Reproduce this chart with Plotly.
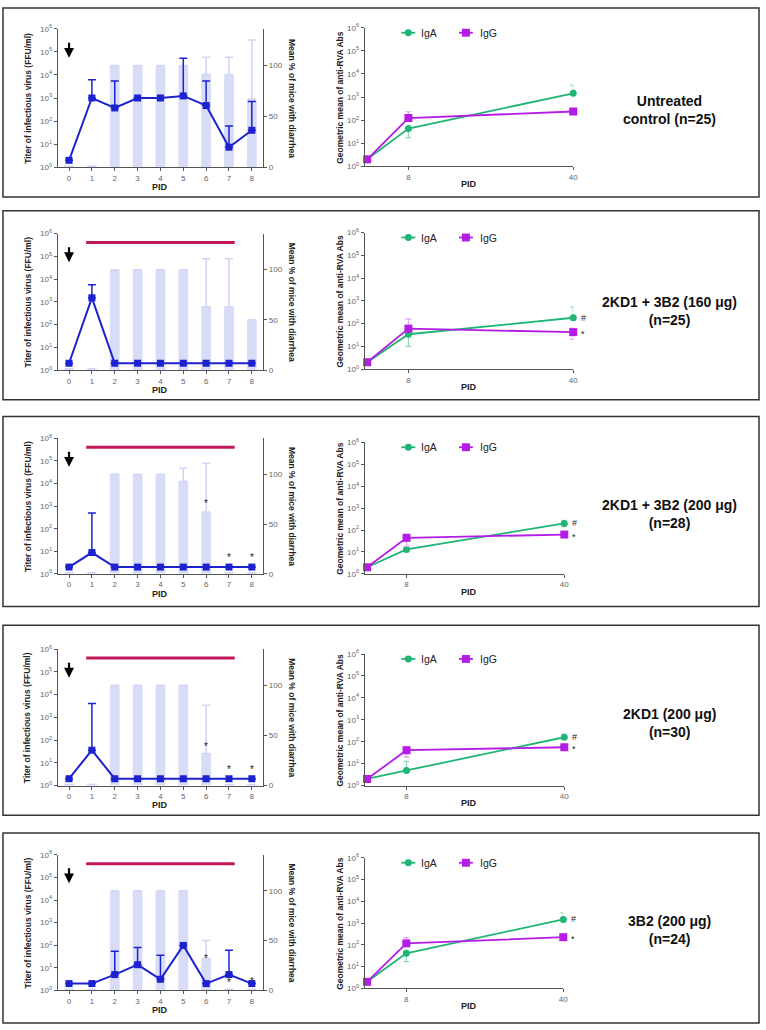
import math
import plotly.graph_objects as go

# ---------------- data ----------------
days = [0, 1, 2, 3, 4, 5, 6, 7, 8]
day_labels = ["0", "1", "2", "3", "4", "5", "6", "7", "8"]
ab_days = [0, 8, 40]
ab_tick_vals = [8, 40]
ab_tick_text = ["8", "40"]
log_tick_vals = [1, 10, 100, 1000, 10000, 100000, 1000000]
log_tick_text = ["10<sup>0</sup>", "10<sup>1</sup>", "10<sup>2</sup>", "10<sup>3</sup>",
                 "10<sup>4</sup>", "10<sup>5</sup>", "10<sup>6</sup>"]
pct_tick_vals = [0, 50, 100]

group_labels = ["Untreated<br>control (n=25)",
                "2KD1 + 3B2 (160 μg)<br>(n=25)",
                "2KD1 + 3B2 (200 μg)<br>(n=28)",
                "2KD1 (200 μg)<br>(n=30)",
                "3B2 (200 μg)<br>(n=24)"]

# virus titer (FFU/ml), mean and upper error bound (None = no visible bar)
virus_untreated = [2, 1000, 370, 1000, 1000, 1230, 470, 7.4, 40]
virus_untreated_hi = [None, 6100, 5500, None, None, 53000, 5500, 61, 700]
virus_160 = [2, 1500, 2, 2, 2, 2, 2, 2, 2]
virus_160_hi = [None, 5600, None, None, None, None, None, None, None]
virus_200 = [2, 8.8, 2, 2, 2, 2, 2, 2, 2]
virus_200_hi = [None, 490, None, None, None, None, None, None, None]
virus_2kd1 = [2, 36, 2, 2, 2, 2, 2, 2, 2]
virus_2kd1_hi = [None, 4000, None, None, None, None, None, None, None]
virus_3b2 = [2, 2, 5, 13.7, 3.1, 98, 2, 5, 2]
virus_3b2_hi = [None, None, 54, 80, 36, None, None, 60, None]

# mean % of mice with diarrhea and upper error bound
diarrhea_untreated = [1, 1, 100, 100, 100, 100, 91, 91, 67]
diarrhea_untreated_hi = [None, None, None, None, None, None, 108, 108, 125]
diarrhea_160 = [1, 1, 100, 100, 100, 100, 63, 63, 50]
diarrhea_160_hi = [None, None, None, None, None, None, 111, 111, None]
diarrhea_200 = [1, 1, 100, 100, 100, 93, 62, 1, 1]
diarrhea_200_hi = [None, None, None, None, None, 106, 111, None, None]
diarrhea_2kd1 = [1, 1, 100, 100, 100, 100, 32, 1, 1]
diarrhea_2kd1_hi = [None, None, None, None, None, None, 80, None, None]
diarrhea_3b2 = [1, 1, 100, 100, 100, 100, 32, 1, 1]
diarrhea_3b2_hi = [None, None, None, None, None, None, 50, None, None]

# significance stars on diarrhea panels: (day, % level)
stars_untreated = []
stars_160 = []
stars_200 = [(6, 73), (7, 18), (8, 18)]
stars_2kd1 = [(6, 41), (7, 18), (8, 18)]
stars_3b2 = [(6, 34), (7, 10), (8, 11)]

# treatment period (red bar)
treat_start = 0.75
treat_end = 7.25
treat_level = 127
treated = [False, True, True, True, True]

# anti-RVA antibodies (geometric means), upper/lower error bounds
iga_untreated = [2, 43, 1450]
iga_untreated_hi = [None, None, 3200]
iga_untreated_lo = [None, 17.5, None]
igg_untreated = [2, 123, 236]
igg_untreated_hi = [None, 230, None]
igg_untreated_lo = [None, None, None]

iga_160 = [2, 34, 180]
iga_160_hi = [None, None, 540]
iga_160_lo = [None, 10, None]
igg_160 = [2, 60, 42]
igg_160_hi = [None, 158, 63]
igg_160_lo = [None, None, 20]

iga_200 = [2, 13, 200]
iga_200_hi = [None, None, 275]
iga_200_lo = [None, None, 137]
igg_200 = [2, 44, 62]
igg_200_hi = [None, 63, None]
igg_200_lo = [None, 18, None]

iga_2kd1 = [2, 4.9, 160]
iga_2kd1_hi = [None, 12.6, 225]
iga_2kd1_lo = [None, None, None]
igg_2kd1 = [2, 41, 56]
igg_2kd1_hi = [None, 56, None]
igg_2kd1_lo = [None, 20, None]

iga_3b2 = [2, 41, 1480]
iga_3b2_hi = [None, None, 2950]
iga_3b2_lo = [None, 17, None]
igg_3b2 = [2, 117, 225]
igg_3b2_hi = [None, 218, None]
igg_3b2_lo = [None, None, None]

sig_marks = [False, True, True, True, True]

rows = [
    (virus_untreated, virus_untreated_hi, diarrhea_untreated, diarrhea_untreated_hi, stars_untreated,
     iga_untreated, iga_untreated_hi, iga_untreated_lo, igg_untreated, igg_untreated_hi, igg_untreated_lo),
    (virus_160, virus_160_hi, diarrhea_160, diarrhea_160_hi, stars_160,
     iga_160, iga_160_hi, iga_160_lo, igg_160, igg_160_hi, igg_160_lo),
    (virus_200, virus_200_hi, diarrhea_200, diarrhea_200_hi, stars_200,
     iga_200, iga_200_hi, iga_200_lo, igg_200, igg_200_hi, igg_200_lo),
    (virus_2kd1, virus_2kd1_hi, diarrhea_2kd1, diarrhea_2kd1_hi, stars_2kd1,
     iga_2kd1, iga_2kd1_hi, iga_2kd1_lo, igg_2kd1, igg_2kd1_hi, igg_2kd1_lo),
    (virus_3b2, virus_3b2_hi, diarrhea_3b2, diarrhea_3b2_hi, stars_3b2,
     iga_3b2, iga_3b2_hi, iga_3b2_lo, igg_3b2, igg_3b2_hi, igg_3b2_lo),
]

# ---------------- style / layout ----------------
W, H = 766, 1030
FONT = "Liberation Sans, Arial, sans-serif"
BLUE = "#1c22cf"
BAR = "#d9dcf7"
BAR_ERR = "#d2d5f3"
GREEN = "#1fb574"
GREEN_ERR = "#8fd9b5"
PURPLE = "#b51ce6"
PURPLE_ERR = "#dba3f0"
RED = "#c4185c"
AXIS = "#555555"
TICKF = dict(family=FONT, size=8, color="#666666")


def fx(px):
    return px / W


def fy(py):
    return 1 - py / H


left_x = (58, 265)
right_x = [(367, 577), (367, 577), (367, 568), (367, 568), (367, 567)]
left_y = [(23, 163), (230, 368), (437, 574), (650, 788), (858, 995)]
right_y = [(22, 162), (229, 367), (441, 574), (655, 788), (861, 993)]
box_y = [(2, 193), (207, 398), (415, 607), (626, 818), (836, 1028)]
label_y = [105, 308, 513, 725, 934]


def deltas(vals, bounds, upper=True):
    out = []
    for v, b in zip(vals, bounds):
        if b is None:
            out.append(0)
        else:
            out.append((b - v) if upper else (v - b))
    return out


def an(kind, idx):
    return kind if idx == 1 else f"{kind}{idx}"


def paper_text(px, py, text, size, angle=0, xanchor="center", color="#222222"):
    return dict(xref="paper", yref="paper", x=fx(px), y=fy(py), text=text, textangle=angle,
                showarrow=False, xanchor=xanchor, yanchor="middle", align="center",
                font=dict(family=FONT, size=size, color=color))


fig = go.Figure()
layout = dict(width=W, height=H, margin=dict(l=0, r=0, t=0, b=0, pad=0), autosize=False,
              paper_bgcolor="white", plot_bgcolor="white", showlegend=False,
              font=dict(family=FONT, color="#222222"))
shapes = []
annotations = []

axis_common = dict(showgrid=False, zeroline=False, showline=True, linecolor=AXIS, linewidth=1,
                   ticks="outside", ticklen=3, tickcolor=AXIS, tickwidth=1, tickfont=TICKF)

for i, row in enumerate(rows):
    (vir, vir_hi, dia, dia_hi, stars, iga, iga_hi, iga_lo, igg, igg_hi, igg_lo) = row
    xl, xr = 2 * i + 1, 2 * i + 2
    yb, yv, ya = 3 * i + 1, 3 * i + 2, 3 * i + 3

    ly0, ly1 = left_y[i]
    ry0, ry1 = right_y[i]
    rx0, rx1 = right_x[i]

    # axes
    layout["xaxis" + ("" if xl == 1 else str(xl))] = dict(
        axis_common, domain=[fx(left_x[0]), fx(left_x[1])], anchor=an("y", yb),
        range=[-0.5, 8.5], tickmode="array", tickvals=days, ticktext=day_labels)
    layout["yaxis" + ("" if yb == 1 else str(yb))] = dict(
        axis_common, domain=[fy(ly1), fy(ly0)], anchor=an("x", xl), side="right",
        range=[0, 136], tickmode="array", tickvals=pct_tick_vals)
    layout["yaxis" + str(yv)] = dict(
        axis_common, overlaying=an("y", yb), anchor=an("x", xl), side="left",
        type="log", range=[0, 6], tickmode="array", tickvals=log_tick_vals, ticktext=log_tick_text)
    layout["xaxis" + str(xr)] = dict(
        axis_common, domain=[fx(rx0), fx(rx1)], anchor=an("y", ya),
        range=[-0.5, 40], tickmode="array", tickvals=ab_tick_vals, ticktext=ab_tick_text)
    layout["yaxis" + str(ya)] = dict(
        axis_common, domain=[fy(ry1), fy(ry0)], anchor=an("x", xr),
        type="log", range=[0, 6], tickmode="array", tickvals=log_tick_vals, ticktext=log_tick_text)

    # diarrhea bars
    fig.add_trace(go.Bar(
        x=days, y=dia, width=0.43, marker=dict(color=BAR, line=dict(width=0)),
        error_y=dict(type="data", symmetric=False, array=deltas(dia, dia_hi),
                     arrayminus=[0] * len(dia), color=BAR_ERR, thickness=1.5, width=4),
        xaxis=an("x", xl), yaxis=an("y", yb)))
    # virus titer line
    fig.add_trace(go.Scatter(
        x=days, y=vir, mode="lines+markers", cliponaxis=False,
        line=dict(color=BLUE, width=2), marker=dict(symbol="square", size=7, color=BLUE),
        error_y=dict(type="data", symmetric=False, array=deltas(vir, vir_hi),
                     arrayminus=[0] * len(vir), color=BLUE, thickness=1.5, width=4),
        xaxis=an("x", xl), yaxis=an("y", yv)))

    # antibodies
    fig.add_trace(go.Scatter(
        x=ab_days, y=iga, mode="lines+markers", cliponaxis=False, name="IgA",
        line=dict(color=GREEN, width=1.8), marker=dict(symbol="circle", size=7, color=GREEN),
        error_y=dict(type="data", symmetric=False, array=deltas(iga, iga_hi),
                     arrayminus=deltas(iga, iga_lo, upper=False), color=GREEN_ERR, thickness=1.2, width=3),
        xaxis=an("x", xr), yaxis=an("y", ya)))
    fig.add_trace(go.Scatter(
        x=ab_days, y=igg, mode="lines+markers", cliponaxis=False, name="IgG",
        line=dict(color=PURPLE, width=1.8), marker=dict(symbol="square", size=8, color=PURPLE),
        error_y=dict(type="data", symmetric=False, array=deltas(igg, igg_hi),
                     arrayminus=deltas(igg, igg_lo, upper=False), color=PURPLE_ERR, thickness=1.2, width=3),
        xaxis=an("x", xr), yaxis=an("y", ya)))

    # treatment bar
    if treated[i]:
        shapes.append(dict(type="line", xref=an("x", xl), yref=an("y", yb),
                           x0=treat_start, x1=treat_end, y0=treat_level, y1=treat_level,
                           line=dict(color=RED, width=3)))

    # inoculation arrow at day 0
    annotations.append(dict(xref=an("x", xl), yref=an("y", yv), x=0, y=4.74, text=" ",
                            showarrow=True, ax=0, ay=-17, arrowhead=2, arrowsize=0.9,
                            arrowwidth=2.2, arrowcolor="black", standoff=0,
                            font=dict(size=1)))

    # stars
    for (d, lvl) in stars:
        annotations.append(dict(xref=an("x", xl), yref=an("y", yb), x=d, y=lvl, text="*",
                                showarrow=False, yshift=-2,
                                font=dict(family=FONT, size=10, color="#222222")))

    if sig_marks[i]:
        annotations.append(dict(xref=an("x", xr), yref=an("y", ya), x=40, y=math.log10(iga[-1]),
                                text="#", showarrow=False, xshift=10,
                                font=dict(family=FONT, size=9, color="#222222")))
        annotations.append(dict(xref=an("x", xr), yref=an("y", ya), x=40, y=math.log10(igg[-1]),
                                text="*", showarrow=False, xshift=10, yshift=-2,
                                font=dict(family=FONT, size=9, color="#222222")))

    # axis titles
    annotations.append(paper_text(28, (ly0 + ly1) / 2,
                                  "<b>Titer of infectious virus (FFU/ml)</b>", 8.5, angle=-90))
    annotations.append(paper_text(294, (ly0 + ly1) / 2,
                                  "<b>Mean % of mice with diarrhea</b>", 8.5, angle=90))
    annotations.append(paper_text(342, (ry0 + ry1) / 2,
                                  "<b>Geometric mean of anti-RVA Abs</b>", 8.5, angle=-90))
    annotations.append(paper_text(161, ly1 + 20, "<b>PID</b>", 9))
    annotations.append(paper_text(472, ry1 + 18, "<b>PID</b>", 9))

    # legend (IgA / IgG)
    lg_y = ry0 + 5
    shapes.append(dict(type="line", xref="paper", yref="paper", x0=fx(404), x1=fx(418),
                       y0=fy(lg_y), y1=fy(lg_y), line=dict(color=GREEN, width=1.8)))
    shapes.append(dict(type="circle", xref="paper", yref="paper", x0=fx(407.5), x1=fx(414.5),
                       y0=fy(lg_y + 3.5), y1=fy(lg_y - 3.5), fillcolor=GREEN, line=dict(width=0)))
    annotations.append(paper_text(422, lg_y, "IgA", 10.5, xanchor="left"))
    shapes.append(dict(type="line", xref="paper", yref="paper", x0=fx(462), x1=fx(476),
                       y0=fy(lg_y), y1=fy(lg_y), line=dict(color=PURPLE, width=1.8)))
    shapes.append(dict(type="rect", xref="paper", yref="paper", x0=fx(465), x1=fx(473),
                       y0=fy(lg_y + 4), y1=fy(lg_y - 4), fillcolor=PURPLE, line=dict(width=0)))
    annotations.append(paper_text(481, lg_y, "IgG", 10.5, xanchor="left"))

    # group label
    annotations.append(paper_text(674, label_y[i], "<b>" + group_labels[i] + "</b>", 14,
                                  color="#111111"))

    # panel box
    by0, by1 = box_y[i]
    shapes.append(dict(type="rect", xref="paper", yref="paper", x0=fx(3), x1=fx(764),
                       y0=fy(by1), y1=fy(by0), line=dict(color="#333333", width=1.5),
                       fillcolor="rgba(0,0,0,0)", layer="below"))

layout["shapes"] = shapes
layout["annotations"] = annotations
fig.update_layout(**layout)
fig.write_html("out.html", config={"displayModeBar": False},
               post_script="document.body.style.margin='0';document.body.style.overflow='hidden';")
